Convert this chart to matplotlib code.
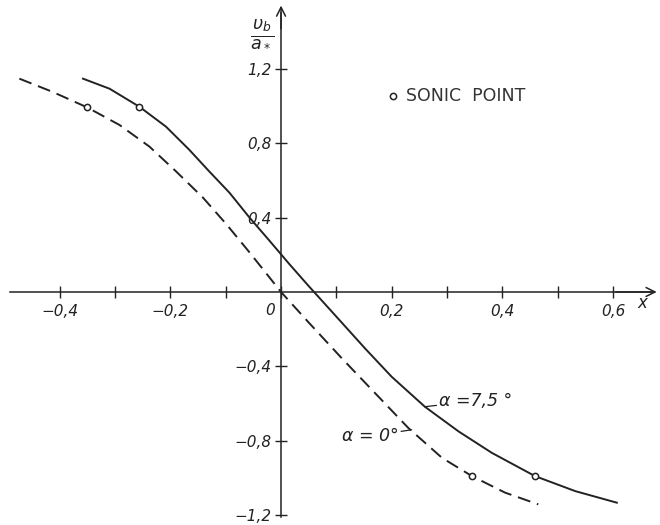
import matplotlib
matplotlib.use("Agg")
import matplotlib.pyplot as plt

# alpha = 7.5 deg (solid)
x_75 = [-0.358, -0.310, -0.256, -0.208, -0.166, -0.130, -0.093, -0.057, -0.021,
        0.015, 0.049, 0.098, 0.152, 0.200, 0.260, 0.321, 0.381, 0.459, 0.532, 0.607]
y_75 = [1.147, 1.093, 0.996, 0.889, 0.765, 0.649, 0.533, 0.400, 0.276,
        0.150, 0.035, -0.126, -0.304, -0.456, -0.617, -0.750, -0.865, -0.990, -1.071, -1.133]

# alpha = 0 deg (dashed)
x_0 = [-0.473, -0.413, -0.350, -0.292, -0.238, -0.190, -0.141, -0.099, -0.057,
       0.0, 0.049, 0.110, 0.170, 0.230, 0.291, 0.345, 0.405, 0.465]
y_0 = [1.147, 1.076, 0.992, 0.898, 0.782, 0.649, 0.507, 0.365, 0.213,
       0.0, -0.161, -0.357, -0.544, -0.731, -0.892, -0.990, -1.079, -1.142]

# sonic points
sonic_x = [-0.256, 0.459, -0.350, 0.345]
sonic_y = [0.996, -0.990, 0.992, -0.990]

xticks = [-0.4, -0.2, 0.0, 0.2, 0.4, 0.6]
xlabels = ["\u22120,4", "\u22120,2", "", "0,2", "0,4", "0,6"]
xminor = [-0.3, -0.1, 0.1, 0.3, 0.5]
yticks = [-1.2, -0.8, -0.4, 0.4, 0.8, 1.2]
ylabels = ["\u22121,2", "\u22120,8", "\u22120,4", "0,4", "0,8", "1,2"]

ink = "#222222"
plt.rcParams["mathtext.fontset"] = "dejavusans"

fig = plt.figure(figsize=(6.6, 5.25), dpi=100)
ax = fig.add_axes([0, 0, 1, 1])
ax.set_xlim(-0.508, 0.685)
ax.set_ylim(-1.253, 1.570)

ax.plot(x_75, y_75, color=ink, lw=1.4, solid_joinstyle="round")
ax.plot(x_0, y_0, color=ink, lw=1.4, dashes=(6.7, 3.6))
ax.plot(sonic_x, sonic_y, "o", ms=4.5, mfc="white", mec=ink, mew=1.1, ls="none")

# axes through origin
for s in ["top", "right"]:
    ax.spines[s].set_visible(False)
ax.spines["left"].set_position(("data", 0))
ax.spines["bottom"].set_position(("data", 0))
ax.spines["left"].set_bounds(-1.21, 1.50)
ax.spines["bottom"].set_bounds(-0.490, 0.670)
for s in ["left", "bottom"]:
    ax.spines[s].set_color(ink)
    ax.spines[s].set_linewidth(1.1)
ax.annotate("", xy=(0.684, 0), xytext=(0.60, 0),
            arrowprops=dict(arrowstyle="->", color=ink, lw=1.1,
                            mutation_scale=16))
ax.annotate("", xy=(0, 1.555), xytext=(0, 1.40),
            arrowprops=dict(arrowstyle="->", color=ink, lw=1.1,
                            mutation_scale=16))

ax.set_xticks(xticks)
ax.set_xticklabels(xlabels)
ax.set_xticks(xminor, minor=True)
ax.set_yticks(yticks)
ax.set_yticklabels(ylabels)
ax.tick_params(axis="both", which="both", direction="inout", length=9,
               width=1.0, color=ink, labelsize=11, labelcolor=ink)
ax.tick_params(axis="x", pad=4)
ax.tick_params(axis="y", pad=2)
for lab in ax.get_xticklabels() + ax.get_yticklabels():
    lab.set_fontstyle("italic")

ax.text(-0.020, -0.06, "0", ha="center", va="top", fontsize=11,
        style="italic", color=ink)
ax.text(0.654, -0.06, "x", ha="center", va="center", fontsize=12,
        style="italic", color=ink)
ax.text(-0.035, 1.39, r"$\frac{\mathit{\upsilon_b}}{\mathit{a_*}}$",
        ha="center", va="center", fontsize=18, color=ink)

# legend
ax.plot([0.203], [1.054], "o", ms=4.5, mfc="white", mec=ink, mew=1.1)
ax.text(0.226, 1.054, "SONIC  POINT", ha="left", va="center", fontsize=12.5,
        color="#333333")

# curve labels
ax.annotate("\u03b1 =7,5 \u00b0", xy=(0.260, -0.617), xytext=(0.286, -0.585),
            ha="left", va="center", fontsize=12.5, style="italic", color=ink,
            arrowprops=dict(arrowstyle="-", color=ink, lw=0.9,
                            shrinkA=0, shrinkB=0))
ax.annotate("\u03b1 = 0\u00b0", xy=(0.236, -0.741), xytext=(0.212, -0.775),
            ha="right", va="center", fontsize=12.5, style="italic", color=ink,
            arrowprops=dict(arrowstyle="-", color=ink, lw=0.9,
                            shrinkA=0, shrinkB=0))

fig.savefig("out.png", dpi=100)
